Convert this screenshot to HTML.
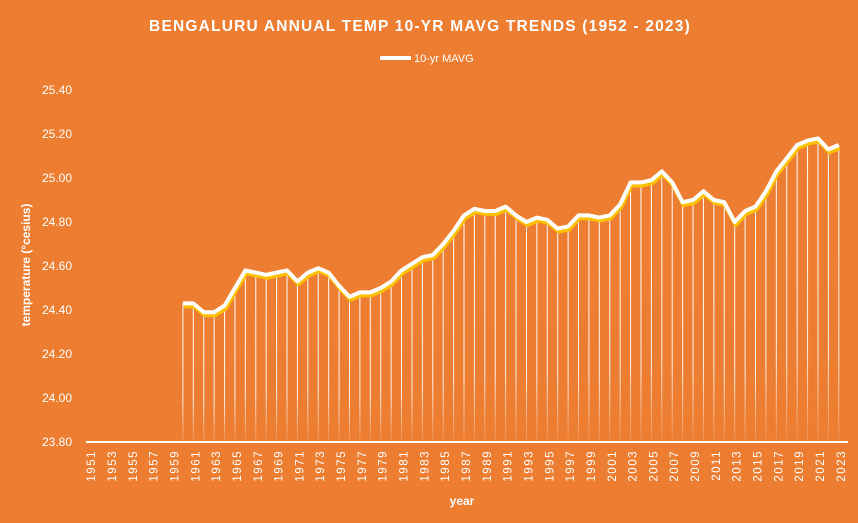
<!DOCTYPE html>
<html><head><meta charset="utf-8"><style>
html,body{margin:0;padding:0;background:#ED7D31;}
svg{display:block;font-family:"Liberation Sans",sans-serif;}
</style></head><body>
<svg id="chart" width="858" height="523" xmlns="http://www.w3.org/2000/svg">
<defs><linearGradient id="fade" x1="0" y1="0" x2="0" y2="1"><stop offset="0" stop-color="#fff" stop-opacity="1"/><stop offset="0.7" stop-color="#fff" stop-opacity="0.9"/><stop offset="1" stop-color="#fff" stop-opacity="0.1"/></linearGradient></defs>
<rect width="858" height="523" fill="#ED7D31"/>
<text x="420" y="31" text-anchor="middle" fill="#fff" font-size="15.5" font-weight="bold" letter-spacing="1.2">BENGALURU ANNUAL TEMP 10-YR MAVG TRENDS (1952 - 2023)</text>
<g><line x1="380" y1="58" x2="411" y2="58" stroke="#fff" stroke-width="4"/><text x="414" y="62" fill="#fff" font-size="11">10-yr MAVG</text></g>
<text transform="translate(30,265) rotate(-90)" text-anchor="middle" fill="#fff" font-size="12" font-weight="bold">temperature (°cesius)</text>
<text x="462" y="505" text-anchor="middle" fill="#fff" font-size="12" font-weight="bold">year</text>
<g id="yt"></g><g id="drops"></g><g id="xt"></g><g id="lines"></g>
</svg>
<script>
const startYear = 1951;
const endYear = 2023;
const dataYears = [1960,1961,1962,1963,1964,1965,1966,1967,1968,1969,1970,1971,1972,1973,1974,1975,1976,1977,1978,1979,1980,1981,1982,1983,1984,1985,1986,1987,1988,1989,1990,1991,1992,1993,1994,1995,1996,1997,1998,1999,2000,2001,2002,2003,2004,2005,2006,2007,2008,2009,2010,2011,2012,2013,2014,2015,2016,2017,2018,2019,2020,2021,2022,2023];
const mavg = [24.43,24.43,24.39,24.39,24.42,24.50,24.58,24.57,24.56,24.57,24.58,24.53,24.57,24.59,24.57,24.51,24.46,24.48,24.48,24.50,24.53,24.58,24.61,24.64,24.65,24.70,24.76,24.83,24.86,24.85,24.85,24.87,24.83,24.80,24.82,24.81,24.77,24.78,24.83,24.83,24.82,24.83,24.88,24.98,24.98,24.99,25.03,24.98,24.89,24.90,24.94,24.90,24.89,24.80,24.85,24.87,24.94,25.03,25.09,25.15,25.17,25.18,25.13,25.15];
const yTicks = [23.80,24.00,24.20,24.40,24.60,24.80,25.00,25.20,25.40];
const NS="http://www.w3.org/2000/svg";
const x0=84, x1=844, yBase=442;
const n = endYear-startYear+1;
const step=(x1-x0)/n;
const xOf = yr => x0+(yr-startYear+0.5)*step;
const yOf = v => yBase-(v-23.8)*220;
function mk(t,a,p){const e=document.createElementNS(NS,t);for(const k in a)e.setAttribute(k,a[k]);p.appendChild(e);return e;}
const yt=document.getElementById('yt');
yTicks.forEach(v=>{const t=mk('text',{x:72,y:yOf(v)+4,'text-anchor':'end',fill:'#fff','font-size':12},yt);t.textContent=v.toFixed(2);

});
const ax=mk('line',{x1:86,x2:848,y1:yBase,y2:yBase,stroke:'#fff','stroke-width':2},yt);


const xt=document.getElementById('xt');
for(let yr=startYear;yr<=endYear;yr+=2){const x=xOf(yr)+2;const t=mk('text',{transform:`translate(${x+4},${yBase+8}) rotate(-90)`,'text-anchor':'end',fill:'#fff','font-size':11.5,'letter-spacing':'1.5'},xt);t.textContent=yr;

}
const dr=document.getElementById('drops');
dataYears.forEach((yr,i)=>{const x=xOf(yr);const l=mk('rect',{x:x-0.5,y:yOf(mavg[i]),width:1,height:yBase-yOf(mavg[i]),fill:'url(#fade)'},dr);

});
const ln=document.getElementById('lines');
const pts=dataYears.map((yr,i)=>xOf(yr)+','+yOf(mavg[i])).join(' ');
const sh=mk('polyline',{points:dataYears.map((yr,i)=>(xOf(yr)+1)+','+(yOf(mavg[i])+3)).join(' '),fill:'none',stroke:'#FFC000','stroke-width':4,'stroke-linejoin':'round'},ln);


const pl=mk('polyline',{points:pts,fill:'none',stroke:'#fff','stroke-width':4,'stroke-linejoin':'round'},ln);


</script>
</body></html>
